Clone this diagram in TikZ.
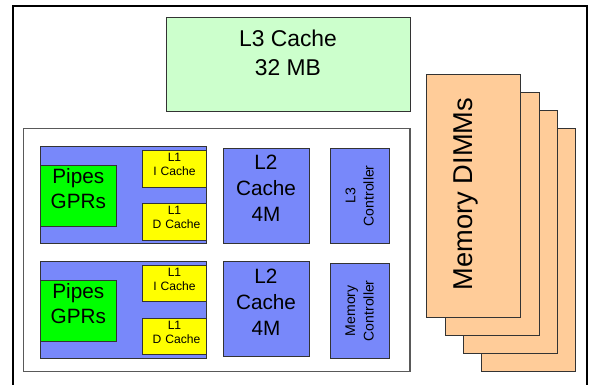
\documentclass[tikz,border=0pt]{standalone}
\usepackage{fontspec}
\setmainfont{Liberation Sans}
\usetikzlibrary{fit}

\definecolor{bigcache}{HTML}{CCFFCC}
\definecolor{coreblue}{RGB}{120,136,250}
\definecolor{pipegreen}{HTML}{00FF00}
\definecolor{lonecache}{HTML}{FFFF00}
\definecolor{dimmfill}{HTML}{FFCC99}

\tikzset{
  blk/.style={draw=black!80, line width=0.5pt, inner sep=0pt},
  l3blk/.style={blk, fill=bigcache},
  coreblk/.style={blk, fill=coreblue},
  pipeblk/.style={blk, fill=pipegreen},
  l1blk/.style={blk, fill=lonecache},
  dimmblk/.style={blk, fill=dimmfill},
  bigtxt/.style={align=center, font=\fontsize{13}{16.4}\selectfont},
  midtxt/.style={align=center, font=\fontsize{11.8}{14}\selectfont},
  l2txt/.style={align=center, font=\fontsize{11.8}{14.7}\selectfont},
  tinytxt/.style={align=center, font=\fontsize{6.9}{7.9}\selectfont},
  ctltxt/.style={align=center, rotate=90, font=\fontsize{8}{10.5}\selectfont},
}

\begin{document}
\begin{tikzpicture}[x=0.02cm, y=-0.02cm]
  \useasboundingbox (0,0) rectangle (593,385);

  % 1. outer frame (open at the bottom)
  \draw[line width=1.7pt] (13,385) -- (13,6) -- (587,6) -- (587,385);

  % 2. shared L3 cache
  \node[l3blk, fit={(166.7,17.7) (410,111.7)}] (l3) {};
  \node[bigtxt] (l3txt) at (288,53) {L3 Cache\\32 MB};

  % 3. the chip
  \node[draw=black!65, line width=0.6pt, inner sep=0pt, fit={(23.3,128.3) (410,371.7)}] (chip) {};

  % 4. two cores, each with pipes and L1 caches
  \foreach \n/\top/\bot/\ptop/\pbot/\itop/\ibot/\dtop/\dbot in
      {a/146.7/243.3/165/226.7/150.7/187.3/203.3/240,
       b/261.7/358.3/280/341.7/265.7/301.7/318.3/354.3}{
    \node[coreblk, fit={(40,\top) (206.7,\bot)}] (core\n) {};
    \node[pipeblk, fit={(40,\ptop) (116.7,\pbot)}, midtxt] (pipes\n) {Pipes\\GPRs};
    \node[l1blk, fit={(142.3,\itop) (206.7,\ibot)}, tinytxt] (icache\n) {L1\\I Cache};
    \node[l1blk, fit={(142.3,\dtop) (206.7,\dbot)}, tinytxt] (dcache\n) {L1\\\ D Cache};
  }

  % 5. L2 caches
  \node[coreblk, fit={(223,148.3) (309,243.3)}, l2txt] (l2a) {L2\\Cache\\4M};
  \node[coreblk, fit={(223,261.7) (309,356.7)}, l2txt] (l2b) {L2\\Cache\\4M};

  % 6. controllers (rotated labels)
  \node[coreblk, fit={(330,148.3) (389.3,243.3)}] (l3ctl) {};
  \node[ctltxt] (l3ctltxt) at (l3ctl) {L3\\Controller};
  \node[coreblk, fit={(330,263.3) (389.3,358.3)}] (memctl) {};
  \node[ctltxt] (memctltxt) at (memctl) {Memory\\Controller};

  % 7. stack of DIMMs, drawn back to front
  \foreach \k in {3,2,1,0}{
    \node[dimmblk, fit={({426.7+18.3*\k},{74+18.3*\k}) ({520.7+18.3*\k},{317+18.3*\k})}] (dimm\k) {};
  }
  \node[rotate=90, font=\fontsize{15.5}{18}\selectfont] (dimmtxt) at (466,194) {Memory DIMMs};
\end{tikzpicture}
\end{document}
